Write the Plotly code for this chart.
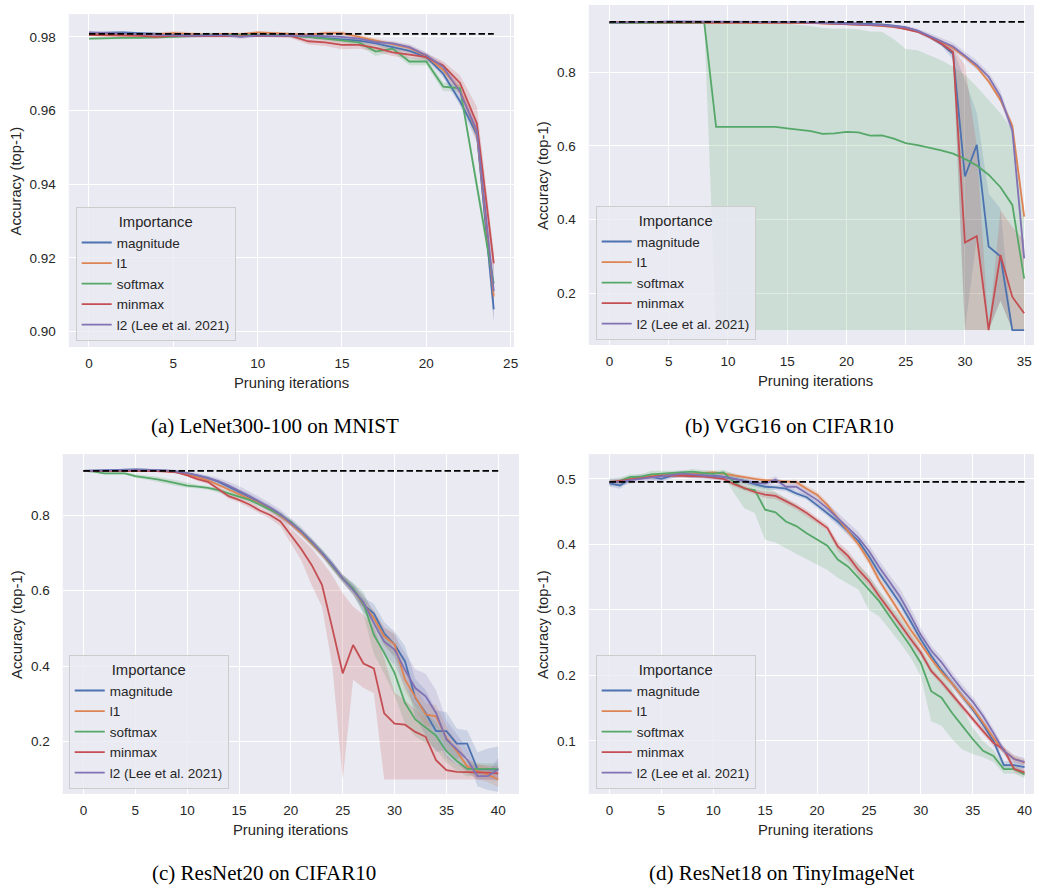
import plotly.graph_objects as go

W, H = 1038, 888

NAMES = ["magnitude", "l1", "softmax", "minmax", "l2 (Lee et al. 2021)"]
COLORS = ["#4C72B0", "#DD8452", "#55A868", "#C44E52", "#8172B3"]
FILLS = ["rgba(76,114,176,0.2)", "rgba(221,132,82,0.2)", "rgba(85,168,104,0.2)",
         "rgba(196,78,82,0.2)", "rgba(129,114,179,0.2)"]

# ---------------- (a) LeNet300-100 on MNIST ----------------
A_X = list(range(25))
A_BASE = 0.9808
A_MAG = [0.9810, 0.9811, 0.9812, 0.9810, 0.9808, 0.9806, 0.9805, 0.9804, 0.9806, 0.9803, 0.9806, 0.9805, 0.9804,
         0.9800, 0.9797, 0.9795, 0.9790, 0.9782, 0.9772, 0.9762, 0.9745, 0.9700, 0.9625, 0.9535, 0.9060]
A_L1 = [0.9808, 0.9807, 0.9806, 0.9806, 0.9807, 0.9810, 0.9808, 0.9806, 0.9808, 0.9807, 0.9812, 0.9810, 0.9808,
        0.9806, 0.9810, 0.9810, 0.9800, 0.9790, 0.9782, 0.9770, 0.9748, 0.9710, 0.9655, 0.9540, 0.9095]
A_SOFT = [0.9795, 0.9797, 0.9797, 0.9797, 0.9798, 0.9800, 0.9802, 0.9806, 0.9805, 0.9804, 0.9805, 0.9805, 0.9803,
          0.9800, 0.9795, 0.9790, 0.9785, 0.9760, 0.9768, 0.9733, 0.9733, 0.9665, 0.9660, 0.9395, 0.9130]
A_MINMAX = [0.9805, 0.9805, 0.9804, 0.9803, 0.9800, 0.9803, 0.9802, 0.9802, 0.9803, 0.9802, 0.9804, 0.9803, 0.9802,
            0.9788, 0.9785, 0.9778, 0.9778, 0.9770, 0.9758, 0.9752, 0.9745, 0.9722, 0.9675, 0.9565, 0.9185]
A_L2 = [0.9812, 0.9810, 0.9808, 0.9807, 0.9806, 0.9804, 0.9803, 0.9805, 0.9805, 0.9800, 0.9804, 0.9803, 0.9804,
        0.9803, 0.9802, 0.9800, 0.9795, 0.9786, 0.9782, 0.9772, 0.9750, 0.9718, 0.9650, 0.9545, 0.9110]
A_MAG_ERR = [0.0004, 0.0004, 0.0004, 0.0003, 0.0003, 0.0004, 0.0004, 0.0004, 0.0004, 0.0004, 0.0003, 0.0003, 0.0004,
             0.0004, 0.0005, 0.0005, 0.0005, 0.0006, 0.0006, 0.0007, 0.0008, 0.0010, 0.0012, 0.0020, 0.0035]
A_L1_ERR = [0.0003, 0.0003, 0.0003, 0.0004, 0.0004, 0.0006, 0.0005, 0.0004, 0.0004, 0.0004, 0.0004, 0.0004, 0.0004,
            0.0004, 0.0005, 0.0006, 0.0006, 0.0006, 0.0006, 0.0007, 0.0008, 0.0010, 0.0015, 0.0025, 0.0030]
A_SOFT_ERR = [0.0003, 0.0003, 0.0003, 0.0003, 0.0003, 0.0004, 0.0005, 0.0006, 0.0005, 0.0004, 0.0004, 0.0004, 0.0004,
              0.0004, 0.0005, 0.0006, 0.0008, 0.0012, 0.0010, 0.0010, 0.0010, 0.0012, 0.0010, 0.0020, 0.0025]
A_MINMAX_ERR = [0.0003, 0.0003, 0.0003, 0.0004, 0.0006, 0.0005, 0.0005, 0.0005, 0.0005, 0.0004, 0.0004, 0.0005, 0.0006,
                0.0009, 0.0010, 0.0012, 0.0010, 0.0010, 0.0010, 0.0010, 0.0010, 0.0012, 0.0020, 0.0045, 0.0030]
A_L2_ERR = [0.0004, 0.0004, 0.0004, 0.0004, 0.0004, 0.0004, 0.0004, 0.0004, 0.0004, 0.0006, 0.0004, 0.0004, 0.0004,
            0.0004, 0.0004, 0.0005, 0.0005, 0.0005, 0.0006, 0.0008, 0.0008, 0.0010, 0.0015, 0.0025, 0.0085]

# ---------------- (b) VGG16 on CIFAR10 ----------------
B_X = list(range(36))
B_BASE = 0.937
B_MAG = [0.935, 0.935, 0.936, 0.936, 0.937, 0.937, 0.937, 0.937, 0.937, 0.937, 0.937, 0.937, 0.937, 0.937, 0.937,
         0.936, 0.936, 0.936, 0.935, 0.935, 0.934, 0.933, 0.932, 0.930, 0.927, 0.922, 0.912, 0.897, 0.877, 0.850,
         0.517, 0.603, 0.327, 0.300, 0.100, 0.100]
B_MAG_LO = [0.933, 0.933, 0.934, 0.934, 0.935, 0.935, 0.935, 0.935, 0.935, 0.935, 0.935, 0.935, 0.935, 0.935, 0.935,
            0.934, 0.934, 0.934, 0.933, 0.933, 0.932, 0.931, 0.930, 0.928, 0.925, 0.920, 0.909, 0.893, 0.872, 0.835,
            0.100, 0.350, 0.100, 0.180, 0.100, 0.100]
B_MAG_HI = [0.937, 0.937, 0.938, 0.938, 0.939, 0.939, 0.939, 0.939, 0.939, 0.939, 0.939, 0.939, 0.939, 0.939, 0.939,
            0.938, 0.938, 0.938, 0.937, 0.937, 0.936, 0.935, 0.934, 0.932, 0.929, 0.924, 0.915, 0.901, 0.882, 0.862,
            0.780, 0.690, 0.470, 0.430, 0.100, 0.100]
B_L1 = [0.934, 0.934, 0.935, 0.935, 0.935, 0.936, 0.936, 0.936, 0.936, 0.936, 0.936, 0.936, 0.936, 0.936, 0.935,
        0.935, 0.935, 0.934, 0.933, 0.932, 0.931, 0.930, 0.928, 0.926, 0.923, 0.919, 0.911, 0.898, 0.883, 0.866,
        0.842, 0.815, 0.775, 0.725, 0.655, 0.408]
B_L1_ERR = [0.002, 0.002, 0.002, 0.002, 0.002, 0.002, 0.002, 0.002, 0.002, 0.002, 0.002, 0.002, 0.002, 0.002, 0.002,
            0.002, 0.002, 0.002, 0.002, 0.002, 0.002, 0.002, 0.002, 0.002, 0.003, 0.003, 0.003, 0.004, 0.004, 0.005,
            0.005, 0.006, 0.006, 0.008, 0.010, 0.015]
B_SOFT = [0.934, 0.934, 0.933, 0.934, 0.935, 0.935, 0.935, 0.935, 0.935, 0.652, 0.652, 0.653, 0.651, 0.651, 0.652,
          0.648, 0.645, 0.640, 0.633, 0.634, 0.638, 0.637, 0.628, 0.629, 0.620, 0.608, 0.602, 0.596, 0.588, 0.579,
          0.565, 0.547, 0.522, 0.488, 0.440, 0.240]
B_SOFT_LO = [0.933, 0.933, 0.932, 0.933, 0.934, 0.934, 0.934, 0.934, 0.934, 0.100, 0.100, 0.100, 0.100, 0.100, 0.100,
             0.100, 0.100, 0.100, 0.100, 0.100, 0.100, 0.100, 0.100, 0.100, 0.100, 0.100, 0.100, 0.100, 0.100, 0.100,
             0.100, 0.100, 0.100, 0.100, 0.100, 0.100]
B_SOFT_HI = [0.935, 0.935, 0.934, 0.935, 0.936, 0.936, 0.936, 0.936, 0.936, 0.936, 0.936, 0.936, 0.936, 0.935, 0.934,
             0.932, 0.930, 0.926, 0.920, 0.918, 0.919, 0.917, 0.911, 0.910, 0.890, 0.863, 0.860, 0.847, 0.833, 0.815,
             0.793, 0.761, 0.725, 0.689, 0.643, 0.420]
B_MINMAX = [0.936, 0.936, 0.936, 0.936, 0.937, 0.937, 0.937, 0.937, 0.937, 0.937, 0.937, 0.937, 0.936, 0.936, 0.936,
            0.935, 0.935, 0.934, 0.933, 0.932, 0.931, 0.930, 0.929, 0.927, 0.924, 0.918, 0.910, 0.896, 0.878, 0.855,
            0.338, 0.355, 0.100, 0.304, 0.190, 0.146]
B_MINMAX_LO = [0.934, 0.934, 0.934, 0.934, 0.935, 0.935, 0.935, 0.935, 0.935, 0.935, 0.935, 0.935, 0.934, 0.934, 0.934,
               0.933, 0.933, 0.932, 0.931, 0.930, 0.929, 0.928, 0.927, 0.925, 0.922, 0.915, 0.907, 0.892, 0.873, 0.845,
               0.100, 0.100, 0.100, 0.180, 0.100, 0.100]
B_MINMAX_HI = [0.938, 0.938, 0.938, 0.938, 0.939, 0.939, 0.939, 0.939, 0.939, 0.939, 0.939, 0.939, 0.938, 0.938, 0.938,
               0.937, 0.937, 0.936, 0.935, 0.934, 0.933, 0.932, 0.931, 0.929, 0.926, 0.921, 0.913, 0.900, 0.883, 0.865,
               0.820, 0.600, 0.100, 0.426, 0.380, 0.345]
B_L2 = [0.935, 0.935, 0.936, 0.936, 0.937, 0.938, 0.938, 0.938, 0.938, 0.938, 0.938, 0.938, 0.937, 0.937, 0.937,
        0.936, 0.936, 0.935, 0.934, 0.933, 0.932, 0.931, 0.930, 0.928, 0.925, 0.922, 0.913, 0.899, 0.884, 0.870,
        0.845, 0.820, 0.788, 0.734, 0.643, 0.295]
B_L2_ERR = [0.002, 0.002, 0.002, 0.002, 0.002, 0.002, 0.002, 0.002, 0.002, 0.002, 0.002, 0.002, 0.002, 0.002, 0.002,
            0.002, 0.002, 0.002, 0.002, 0.002, 0.002, 0.002, 0.002, 0.003, 0.004, 0.005, 0.006, 0.008, 0.010, 0.010,
            0.010, 0.012, 0.012, 0.015, 0.015, 0.030]

# ---------------- (c) ResNet20 on CIFAR10 ----------------
C_X = list(range(41))
C_BASE = 0.917
C_MAG = [0.917, 0.917, 0.918, 0.919, 0.920, 0.921, 0.920, 0.919, 0.918, 0.915, 0.910, 0.905, 0.898, 0.888,
         0.875, 0.862, 0.848, 0.833, 0.818, 0.800, 0.778, 0.755, 0.728, 0.700, 0.668, 0.632, 0.605, 0.562,
         0.540, 0.487, 0.457, 0.413, 0.316, 0.276, 0.228, 0.228, 0.195, 0.195, 0.127, 0.127, 0.127]
C_MAG_ERR = [0.003, 0.003, 0.003, 0.003, 0.003, 0.003, 0.003, 0.003, 0.003, 0.004, 0.004, 0.004, 0.005, 0.006,
             0.007, 0.008, 0.008, 0.008, 0.008, 0.008, 0.008, 0.008, 0.008, 0.009, 0.010, 0.010, 0.015, 0.020,
             0.025, 0.030, 0.035, 0.040, 0.050, 0.060, 0.055, 0.050, 0.040, 0.035, 0.045, 0.055, 0.060]
C_L1 = [0.917, 0.917, 0.918, 0.918, 0.918, 0.918, 0.918, 0.917, 0.916, 0.913, 0.908, 0.900, 0.892, 0.880,
        0.868, 0.855, 0.843, 0.830, 0.815, 0.798, 0.776, 0.752, 0.725, 0.697, 0.665, 0.632, 0.603, 0.565,
        0.527, 0.479, 0.457, 0.364, 0.316, 0.272, 0.267, 0.210, 0.175, 0.135, 0.122, 0.113, 0.100]
C_L1_ERR = [0.002, 0.002, 0.002, 0.002, 0.002, 0.002, 0.002, 0.002, 0.002, 0.003, 0.003, 0.003, 0.004, 0.004,
            0.005, 0.005, 0.005, 0.006, 0.006, 0.006, 0.006, 0.007, 0.008, 0.008, 0.008, 0.010, 0.012, 0.015,
            0.020, 0.025, 0.030, 0.030, 0.030, 0.030, 0.030, 0.030, 0.025, 0.020, 0.020, 0.020, 0.020]
C_SOFT = [0.917, 0.915, 0.910, 0.910, 0.910, 0.903, 0.900, 0.895, 0.890, 0.884, 0.878, 0.875, 0.872, 0.866,
          0.858, 0.850, 0.840, 0.828, 0.815, 0.800, 0.782, 0.757, 0.728, 0.700, 0.665, 0.632, 0.605, 0.567,
          0.483, 0.435, 0.382, 0.303, 0.259, 0.237, 0.216, 0.175, 0.149, 0.128, 0.128, 0.128, 0.128]
C_SOFT_ERR = [0.002, 0.002, 0.003, 0.003, 0.003, 0.005, 0.006, 0.007, 0.007, 0.007, 0.006, 0.005, 0.005, 0.005,
              0.006, 0.006, 0.006, 0.006, 0.006, 0.007, 0.008, 0.008, 0.010, 0.010, 0.010, 0.010, 0.015, 0.030,
              0.050, 0.055, 0.060, 0.055, 0.045, 0.040, 0.035, 0.030, 0.025, 0.020, 0.015, 0.015, 0.015]
C_MINMAX = [0.917, 0.917, 0.917, 0.917, 0.917, 0.917, 0.917, 0.916, 0.915, 0.913, 0.905, 0.895, 0.888, 0.870,
            0.850, 0.840, 0.828, 0.812, 0.800, 0.783, 0.745, 0.710, 0.668, 0.615, 0.500, 0.381, 0.456, 0.407,
            0.394, 0.275, 0.248, 0.245, 0.226, 0.213, 0.151, 0.125, 0.120, 0.120, 0.120, 0.118, 0.116]
C_MINMAX_LO = [0.916, 0.916, 0.916, 0.916, 0.916, 0.916, 0.916, 0.915, 0.914, 0.911, 0.902, 0.890, 0.882, 0.862,
               0.843, 0.833, 0.820, 0.804, 0.790, 0.770, 0.725, 0.680, 0.615, 0.558, 0.400, 0.100, 0.364, 0.342,
               0.329, 0.100, 0.100, 0.100, 0.100, 0.100, 0.100, 0.100, 0.100, 0.100, 0.100, 0.100, 0.100]
C_MINMAX_HI = [0.918, 0.918, 0.918, 0.918, 0.918, 0.918, 0.918, 0.917, 0.916, 0.915, 0.908, 0.900, 0.894, 0.878,
               0.857, 0.847, 0.836, 0.820, 0.808, 0.795, 0.765, 0.738, 0.712, 0.677, 0.640, 0.593, 0.558, 0.536,
               0.505, 0.420, 0.330, 0.310, 0.285, 0.262, 0.215, 0.165, 0.140, 0.140, 0.140, 0.138, 0.135]
C_L2 = [0.917, 0.917, 0.918, 0.919, 0.919, 0.920, 0.920, 0.919, 0.918, 0.915, 0.911, 0.905, 0.898, 0.890,
        0.878, 0.865, 0.850, 0.835, 0.820, 0.802, 0.780, 0.757, 0.730, 0.700, 0.668, 0.632, 0.602, 0.570,
        0.514, 0.465, 0.444, 0.390, 0.342, 0.320, 0.276, 0.206, 0.180, 0.153, 0.109, 0.109, 0.127]
C_L2_ERR = [0.003, 0.003, 0.003, 0.003, 0.003, 0.003, 0.003, 0.003, 0.003, 0.004, 0.005, 0.006, 0.007, 0.008,
            0.010, 0.012, 0.012, 0.012, 0.012, 0.012, 0.012, 0.012, 0.010, 0.010, 0.010, 0.010, 0.015, 0.020,
            0.030, 0.035, 0.040, 0.045, 0.050, 0.060, 0.060, 0.050, 0.040, 0.030, 0.010, 0.010, 0.030]

# ---------------- (d) ResNet18 on TinyImageNet ----------------
D_X = list(range(41))
D_BASE = 0.4955
D_MAG = [0.493, 0.490, 0.500, 0.503, 0.503, 0.500, 0.505, 0.507, 0.505, 0.505, 0.505, 0.503, 0.500, 0.497,
         0.492, 0.488, 0.487, 0.485, 0.478, 0.472, 0.460, 0.448, 0.435, 0.420, 0.405, 0.382, 0.356, 0.333,
         0.310, 0.283, 0.255, 0.230, 0.208, 0.188, 0.168, 0.148, 0.125, 0.100, 0.063, 0.063, 0.060]
D_MAG_ERR = [0.005, 0.005, 0.004, 0.004, 0.004, 0.004, 0.004, 0.004, 0.004, 0.004, 0.004, 0.004, 0.004, 0.004,
             0.004, 0.004, 0.004, 0.004, 0.004, 0.004, 0.005, 0.005, 0.006, 0.006, 0.006, 0.006, 0.006, 0.007,
             0.007, 0.007, 0.007, 0.006, 0.006, 0.006, 0.006, 0.006, 0.006, 0.006, 0.006, 0.006, 0.006]
D_L1 = [0.495, 0.495, 0.500, 0.503, 0.505, 0.505, 0.507, 0.507, 0.508, 0.508, 0.510, 0.508, 0.505, 0.503,
        0.500, 0.498, 0.497, 0.495, 0.495, 0.485, 0.476, 0.460, 0.440, 0.420, 0.400, 0.375, 0.345, 0.320,
        0.295, 0.270, 0.248, 0.225, 0.205, 0.188, 0.168, 0.150, 0.128, 0.105, 0.085, 0.073, 0.067]
D_L1_ERR = [0.003, 0.003, 0.003, 0.003, 0.003, 0.003, 0.003, 0.003, 0.003, 0.003, 0.003, 0.003, 0.003, 0.003,
            0.003, 0.003, 0.003, 0.003, 0.004, 0.004, 0.005, 0.005, 0.005, 0.006, 0.006, 0.006, 0.006, 0.006,
            0.006, 0.006, 0.006, 0.005, 0.005, 0.005, 0.005, 0.005, 0.005, 0.005, 0.005, 0.005, 0.005]
D_SOFT = [0.495, 0.497, 0.503, 0.503, 0.507, 0.508, 0.509, 0.509, 0.511, 0.509, 0.508, 0.510, 0.495, 0.485,
          0.483, 0.453, 0.449, 0.435, 0.428, 0.417, 0.407, 0.398, 0.377, 0.366, 0.349, 0.331, 0.313, 0.290,
          0.268, 0.245, 0.219, 0.176, 0.166, 0.143, 0.123, 0.103, 0.085, 0.077, 0.057, 0.057, 0.049]
D_SOFT_LO = [0.490, 0.492, 0.499, 0.500, 0.503, 0.504, 0.505, 0.505, 0.507, 0.505, 0.504, 0.505, 0.478, 0.455,
             0.448, 0.407, 0.403, 0.394, 0.386, 0.377, 0.369, 0.361, 0.349, 0.340, 0.331, 0.300, 0.290, 0.270,
             0.250, 0.228, 0.199, 0.130, 0.123, 0.103, 0.087, 0.080, 0.075, 0.068, 0.050, 0.050, 0.043]
D_SOFT_HI = [0.500, 0.502, 0.507, 0.507, 0.512, 0.512, 0.513, 0.513, 0.515, 0.513, 0.512, 0.514, 0.508, 0.500,
             0.495, 0.490, 0.480, 0.470, 0.460, 0.445, 0.435, 0.420, 0.400, 0.385, 0.370, 0.352, 0.330, 0.310,
             0.290, 0.265, 0.240, 0.220, 0.205, 0.180, 0.150, 0.120, 0.100, 0.086, 0.064, 0.062, 0.053]
D_MINMAX = [0.495, 0.497, 0.500, 0.502, 0.504, 0.505, 0.505, 0.505, 0.504, 0.504, 0.502, 0.500, 0.492, 0.486,
            0.480, 0.476, 0.474, 0.466, 0.458, 0.448, 0.437, 0.425, 0.397, 0.382, 0.361, 0.344, 0.321, 0.300,
            0.278, 0.256, 0.235, 0.207, 0.190, 0.171, 0.152, 0.133, 0.115, 0.097, 0.087, 0.057, 0.052]
D_MINMAX_ERR = [0.003, 0.003, 0.003, 0.003, 0.003, 0.003, 0.003, 0.003, 0.003, 0.003, 0.003, 0.003, 0.004, 0.004,
                0.004, 0.005, 0.005, 0.005, 0.005, 0.005, 0.005, 0.005, 0.007, 0.008, 0.008, 0.008, 0.007, 0.006,
                0.006, 0.006, 0.006, 0.005, 0.005, 0.005, 0.005, 0.005, 0.005, 0.005, 0.005, 0.005, 0.005]
D_L2 = [0.495, 0.495, 0.498, 0.500, 0.502, 0.503, 0.506, 0.508, 0.507, 0.505, 0.504, 0.503, 0.500, 0.497,
        0.494, 0.493, 0.499, 0.488, 0.488, 0.478, 0.468, 0.455, 0.440, 0.425, 0.410, 0.390, 0.365, 0.343,
        0.320, 0.292, 0.262, 0.238, 0.220, 0.198, 0.178, 0.160, 0.138, 0.112, 0.085, 0.072, 0.068]
D_L2_ERR = [0.006, 0.006, 0.005, 0.005, 0.005, 0.005, 0.005, 0.005, 0.005, 0.005, 0.005, 0.005, 0.005, 0.005,
            0.005, 0.005, 0.005, 0.005, 0.005, 0.006, 0.007, 0.008, 0.008, 0.008, 0.009, 0.010, 0.010, 0.010,
            0.012, 0.012, 0.010, 0.008, 0.008, 0.008, 0.008, 0.008, 0.007, 0.007, 0.006, 0.006, 0.006]


def sym(mean, err):
    assert len(mean) == len(err)
    return [m - e for m, e in zip(mean, err)], [m + e for m, e in zip(mean, err)]


PANELS = [
    dict(x=A_X, base=A_BASE, means=[A_MAG, A_L1, A_SOFT, A_MINMAX, A_L2],
         bands=[sym(A_MAG, A_MAG_ERR), sym(A_L1, A_L1_ERR), sym(A_SOFT, A_SOFT_ERR),
                sym(A_MINMAX, A_MINMAX_ERR), sym(A_L2, A_L2_ERR)],
         px=(69, 516), py=(14, 347), xr=[-1.2, 25.2], yr=[0.8958, 0.9862],
         xt=[0, 5, 10, 15, 20, 25], yt=[0.90, 0.92, 0.94, 0.96, 0.98], yfmt=".2f",
         legend=(76, 341), caption="(a) LeNet300-100 on MNIST", cap=(276, 426)),
    dict(x=B_X, base=B_BASE, means=[B_MAG, B_L1, B_SOFT, B_MINMAX, B_L2],
         bands=[(B_MAG_LO, B_MAG_HI), sym(B_L1, B_L1_ERR), (B_SOFT_LO, B_SOFT_HI),
                (B_MINMAX_LO, B_MINMAX_HI), sym(B_L2, B_L2_ERR)],
         px=(591, 1038), py=(5, 345), xr=[-1.75, 35.83], yr=[0.0596, 0.9827],
         xt=[0, 5, 10, 15, 20, 25, 30, 35], yt=[0.2, 0.4, 0.6, 0.8], yfmt=".1f",
         legend=(598, 340), caption="(b) VGG16 on CIFAR10", cap=(793, 426)),
    dict(x=C_X, base=C_BASE, means=[C_MAG, C_L1, C_SOFT, C_MINMAX, C_L2],
         bands=[sym(C_MAG, C_MAG_ERR), sym(C_L1, C_L1_ERR), sym(C_SOFT, C_SOFT_ERR),
                (C_MINMAX_LO, C_MINMAX_HI), sym(C_L2, C_L2_ERR)],
         px=(63, 521), py=(454, 794), xr=[-2, 42], yr=[0.0616, 0.9615],
         xt=[0, 5, 10, 15, 20, 25, 30, 35, 40], yt=[0.2, 0.4, 0.6, 0.8], yfmt=".1f",
         legend=(69, 789), caption="(c) ResNet20 on CIFAR10", cap=(265, 873)),
    dict(x=D_X, base=D_BASE, means=[D_MAG, D_L1, D_SOFT, D_MINMAX, D_L2],
         bands=[sym(D_MAG, D_MAG_ERR), sym(D_L1, D_L1_ERR), (D_SOFT_LO, D_SOFT_HI),
                sym(D_MINMAX, D_MINMAX_ERR), sym(D_L2, D_L2_ERR)],
         px=(591, 1038), py=(454, 794), xr=[-2, 40.91], yr=[0.019, 0.538],
         xt=[0, 5, 10, 15, 20, 25, 30, 35, 40], yt=[0.1, 0.2, 0.3, 0.4, 0.5], yfmt=".1f",
         legend=(598, 789), caption="(d) ResNet18 on TinyImageNet", cap=(785, 873)),
]

TEXT = "#262626"
SANS = "Liberation Sans, Arial, sans-serif"
fig = go.Figure()
layout = dict(width=W, height=H, margin=dict(l=0, r=0, t=0, b=0),
              paper_bgcolor="white", plot_bgcolor="#EAEAF2",
              font=dict(family=SANS, color=TEXT), annotations=[])

for i, p in enumerate(PANELS):
    k = "" if i == 0 else str(i + 1)
    xa, ya = "x" + k, "y" + k
    leg = "legend" + k
    x = p["x"]
    # confidence bands sit below every line
    for j, (lo, hi) in enumerate(p["bands"]):
        assert len(lo) == len(x) and len(hi) == len(x)
        fig.add_trace(go.Scatter(x=list(x) + list(x)[::-1], y=list(hi) + list(lo)[::-1],
                                 fill="toself", fillcolor=FILLS[j], line=dict(width=0),
                                 mode="lines", hoverinfo="skip", showlegend=False,
                                 xaxis=xa, yaxis=ya))
    for j, m in enumerate(p["means"]):
        assert len(m) == len(x)
        fig.add_trace(go.Scatter(x=x, y=m, mode="lines", name=NAMES[j],
                                 line=dict(color=COLORS[j], width=1.8),
                                 xaxis=xa, yaxis=ya, legend=leg, showlegend=True))
    # unpruned reference accuracy
    fig.add_trace(go.Scatter(x=[x[0], x[-1]], y=[p["base"], p["base"]], mode="lines",
                             line=dict(color="black", width=1.8, dash="6.5px,3px"),
                             showlegend=False, hoverinfo="skip", xaxis=xa, yaxis=ya))

    x0, x1 = p["px"]
    y0, y1 = p["py"]
    layout["xaxis" + k] = dict(domain=[x0 / W, x1 / W], range=p["xr"], anchor=ya,
                               tickvals=p["xt"], showgrid=True, gridcolor="white", gridwidth=1.3,
                               zeroline=False, showline=False, ticks="",
                               ticklabelstandoff=6, tickfont=dict(size=13.5, color=TEXT))
    layout["yaxis" + k] = dict(domain=[1 - y1 / H, 1 - y0 / H], range=p["yr"], anchor=xa,
                               tickvals=p["yt"], tickformat=p["yfmt"], showgrid=True,
                               gridcolor="white", gridwidth=1.3, zeroline=False, showline=False,
                               ticks="", ticklabelstandoff=12, tickfont=dict(size=13.5, color=TEXT))
    lx, ly = p["legend"]
    layout[leg] = dict(x=lx / W, y=1 - ly / H, xanchor="left", yanchor="bottom",
                       bgcolor="rgba(234,234,242,0.8)", bordercolor="#CCCCCC", borderwidth=1,
                       font=dict(size=13.5, color=TEXT, family=SANS), itemwidth=30,
                       title=dict(text="Importance", side="top center",
                                  font=dict(size=14.8, color=TEXT, family=SANS)))
    # axis titles
    layout["annotations"].append(dict(text="Pruning iterations", x=(x0 + x1) / 2 / W if i % 2 == 0 else 819 / W,
                                      y=1 - (y1 + 36) / H, xref="paper", yref="paper",
                                      showarrow=False, font=dict(size=14.8, color=TEXT, family=SANS),
                                      xanchor="center", yanchor="middle"))
    layout["annotations"].append(dict(text="Accuracy (top-1)", x=(17 if i % 2 == 0 else 545) / W,
                                      y=1 - (y0 + y1) / 2 / H, xref="paper", yref="paper",
                                      showarrow=False, textangle=-90,
                                      font=dict(size=14.8, color=TEXT, family=SANS),
                                      xanchor="center", yanchor="middle"))
    cx, cy = p["cap"]
    layout["annotations"].append(dict(text=p["caption"], x=cx / W, y=1 - cy / H, xref="paper", yref="paper",
                                      showarrow=False, xanchor="center", yanchor="middle", borderpad=0,
                                      font=dict(size=21, color="black",
                                                family="Liberation Serif, Times New Roman, serif")))

fig.update_layout(**layout)
fig.write_html("out.html")
